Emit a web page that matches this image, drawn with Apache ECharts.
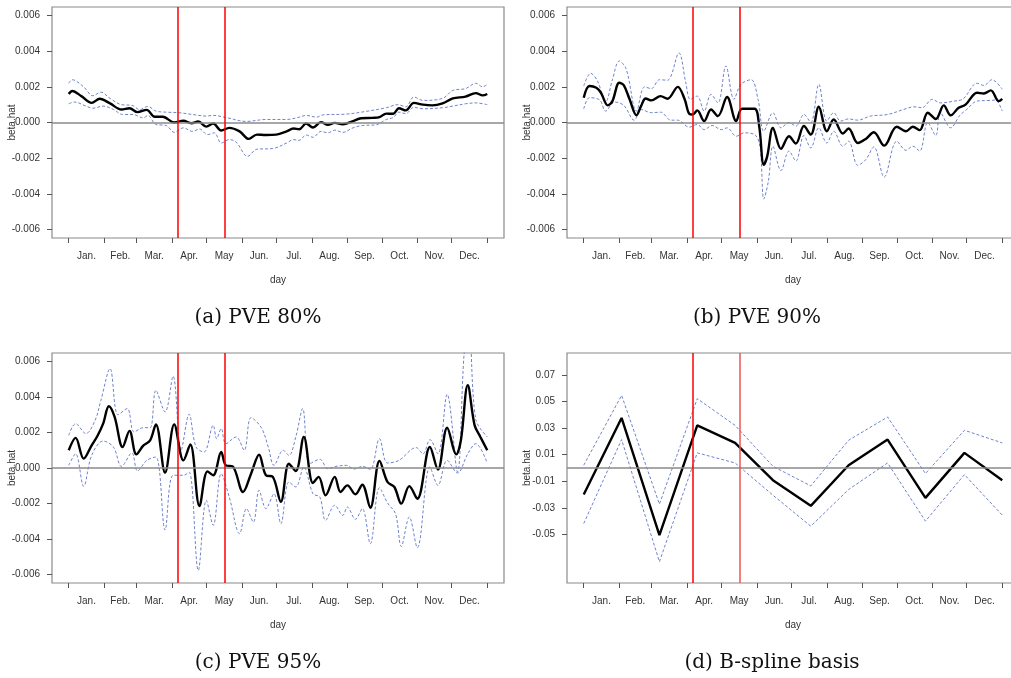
<!doctype html>
<html>
<head>
<meta charset="UTF-8">
<title>beta.hat by day</title>
<script src="https://cdn.jsdelivr.net/npm/echarts@6/dist/echarts.min.js"></script>
<style>
  html, body { margin: 0; padding: 0; background: #fff; }
  #chart { width: 1011px; height: 678px; }
</style>
</head>
<body>
<div id="chart"></div>
<script>
// month axis
var monthNames = ['Jan.', 'Feb.', 'Mar.', 'Apr.', 'May', 'Jun.', 'Jul.', 'Aug.', 'Sep.', 'Oct.', 'Nov.', 'Dec.'];
var monthStarts = [0, 31, 59, 90, 120, 151, 181, 212, 243, 273, 304, 334, 365];
var breakDays = [95, 136];
var captions = ['(a) PVE 80%', '(b) PVE 90%', '(c) PVE 95%', '(d) B-spline basis'];
var betaTicks = [-0.006, -0.004, -0.002, 0, 0.002, 0.004, 0.006];
var basisTicks = [-0.05, -0.03, -0.01, 0.01, 0.03, 0.05, 0.07];

// (a) PVE 80%  [day, beta.hat]
var aFit = [[0,.0016],[3,.00177],[11,.00148],[20,.0011],[27,.00133],[36,.00107],[46,.00073],[53,.0008],[60,.00058],[68,.00071],[75,.00032],[82,.00032],[92,0],[100,.0001],[107,-.00004],[113,.00006],[120,-.00023],[126,-.00006],[133,-.00045],[140,-.0003],[149,-.0005],[157,-.00092],[164,-.00068],[172,-.0007],[181,-.00068],[190,-.0005],[196,-.00034],[201,-.00038],[207,-.00006],[213,-.00028],[220,.00002],[226,-.00013],[232,-.00002],[239,-.0001],[248,.00008],[255,.00024],[265,.00026],[271,.0003],[277,.0005],[283,.00049],[288,.0008],[294,.00068],[301,.0011],[309,.001],[317,.00096],[326,.00107],[335,.00135],[346,.00145],[355,.00165],[361,.00152],[365,.0016]];
var aUp = [[0,.0022],[3,.0024],[13,.002],[21,.0015],[28,.0017],[36,.00135],[46,.001],[55,.00096],[62,.00073],[69,.0009],[76,.00064],[85,.00058],[96,.00055],[108,.00045],[120,.00036],[126,.0004],[137,.00028],[155,.00006],[172,.00017],[190,.00017],[201,.0003],[207,.0004],[216,.0003],[222,.00043],[242,.00047],[259,.00062],[277,.00083],[287,.001],[294,.00088],[301,.00143],[309,.00124],[326,.00135],[335,.0018],[346,.0019],[355,.0022],[361,.002],[365,.00214]];
var aLo = [[0,.00105],[5,.00115],[15,.00092],[21,.0008],[30,.00092],[39,.00073],[47,.00045],[56,.00045],[65,.00026],[69,.0004],[76,-.00011],[85,-.00017],[92,-.00055],[100,-.0003],[108,-.0005],[114,-.00036],[121,-.00068],[127,-.00058],[133,-.00115],[140,-.00096],[146,-.0011],[156,-.0019],[164,-.0015],[178,-.00146],[190,-.00115],[196,-.00096],[201,-.001],[207,-.0007],[213,-.00083],[220,-.0005],[226,-.00058],[232,-.00043],[239,-.00055],[248,-.0003],[256,-.00017],[268,-.00013],[277,.00017],[283,.00028],[288,.00058],[294,.0005],[301,.00085],[309,.00077],[326,.00083],[335,.00092],[346,.00105],[355,.0011],[365,.001]];

// (b) PVE 90%
var bFit = [[0,.00139],[5,.00205],[11,.00195],[15,.00167],[21,.00096],[25,.0012],[31,.00223],[35,.00208],[40,.0013],[46,.0004],[50,.00092],[54,.00135],[59,.00124],[67,.00148],[73,.00133],[82,.002],[88,.0013],[92,.00049],[95,.00045],[99,.00068],[105,.00008],[111,.00073],[117,.00036],[125,.00143],[133,.00008],[138,.00077],[149,.00077],[153,-.0002],[157,-.00237],[160,-.0019],[165,-.0003],[172,-.00148],[179,-.00077],[185,-.00118],[192,-.0002],[198,-.00068],[205,.00088],[212,-.00049],[218,.00017],[226,-.00062],[231,-.00034],[239,-.00115],[246,-.00092],[253,-.00055],[262,-.0013],[273,-.00024],[281,-.00049],[287,-.00024],[293,-.00043],[300,.00055],[307,.0002],[314,.00096],[320,.0004],[327,.00083],[333,.001],[343,.00167],[349,.00163],[355,.0018],[362,.0012],[365,.00133]];
var bUp = [[0,.00205],[6,.00276],[12,.00233],[19,.00115],[25,.0024],[31,.00345],[37,.003],[46,.00064],[53,.002],[59,.0019],[66,.0024],[73,.00237],[83,.0039],[89,.00223],[93,.0013],[99,.00148],[105,.00064],[111,.00158],[117,.0011],[124,.00317],[131,.0013],[137,.00214],[146,.0024],[152,.0013],[157,-.00049],[165,.00055],[172,-.0003],[179,0],[185,-.0002],[192,.00045],[198,0],[205,.00214],[212,.00008],[218,.00055],[224,.00008],[231,.0002],[239,.00013],[250,.00036],[265,.00045],[279,.00073],[288,.00088],[295,.00083],[304,.0013],[311,.0011],[323,.0012],[331,.00133],[343,.0022],[349,.00208],[356,.0024],[365,.00186]];
var bLo = [[0,.00077],[5,.00139],[14,.00126],[19,.00064],[27,.00115],[35,.00096],[44,.00013],[50,.00073],[59,.00055],[67,.00058],[76,.00013],[82,.00013],[92,-.00026],[99,-.00011],[105,-.0004],[112,-.00017],[120,-.0004],[125,-.0003],[133,-.00077],[140,-.00058],[150,-.00073],[154,-.0015],[157,-.0043],[161,-.0033],[165,-.00133],[172,-.0027],[179,-.0016],[185,-.00216],[192,-.00073],[198,-.00143],[205,-.0003],[212,-.00115],[218,-.00049],[226,-.00133],[231,-.00105],[239,-.0024],[246,-.00208],[253,-.00137],[262,-.00306],[273,-.00105],[281,-.00156],[287,-.00133],[293,-.0016],[300,0],[307,-.00073],[311,.00055],[320,-.0003],[328,.0004],[334,.00073],[343,.0012],[355,.00124],[359,.00126],[365,.00064]];

// (c) PVE 95%
var cFit = [[0,.001],[6,.0017],[13,.00053],[20,.00128],[25,.0018],[30,.0025],[35,.00348],[40,.00288],[47,.00118],[53,.00209],[59,.00077],[65,.00126],[71,.00156],[76,.00246],[84,-.00026],[92,.00246],[100,.00043],[106,.00133],[114,-.00214],[121,-.00019],[126,-.00041],[133,.0009],[137,.00015],[143,.00009],[152,-.00135],[159,-.00032],[166,.00075],[172,-.00041],[178,-.0005],[185,-.0019],[192,.00024],[198,-.00017],[205,.00175],[213,-.00085],[218,-.0005],[224,-.00154],[232,-.0005],[237,-.00135],[243,-.00098],[250,-.00148],[256,-.00094],[263,-.00224],[271,.0004],[278,-.00079],[284,-.00107],[290,-.00201],[297,-.00102],[304,-.00173],[315,.00118],[322,-.00009],[330,.00227],[338,.00077],[342,.00156],[348,.00466],[354,.0024],[359,.00175],[365,.001]];
var cUp = [[0,.00184],[6,.0025],[15,.00194],[23,.00269],[28,.0038],[36,.0056],[43,.003],[51,.00335],[57,.00203],[65,.00227],[71,.00227],[76,.00438],[84,.00316],[91,.00517],[98,.001],[105,.00303],[111,.00118],[118,.0009],[126,.0024],[129,.00165],[133,.00222],[137,.00137],[146,.00175],[153,.001],[159,.00284],[168,.00227],[174,.00118],[179,.00015],[187,.001],[192,.00071],[198,.00175],[204,.00335],[210,.00024],[219,.00049],[226,-.00004],[233,.00009],[242,.00015],[249,-.00006],[256,.00009],[263,-.00008],[271,.00165],[278,.00028],[288,.00043],[303,.00115],[309,.0008],[315,.0016],[322,.0008],[330,.00415],[339,-.00022],[345,.0066],[349,.0078],[355,.00273],[365,.00175]];
var cLo = [[0,.00015],[6,.0008],[13,-.00103],[20,.00071],[30,.00152],[39,.00118],[46,.00009],[55,.00085],[60,-.00017],[68,.00043],[76,.00062],[84,-.0035],[91,-.00041],[100,-.00041],[105,-.00023],[113,-.00577],[120,-.00182],[126,-.00323],[133,-.00032],[140,-.00164],[149,-.0037],[155,-.00229],[161,-.00305],[166,-.00126],[172,-.00229],[179,-.00145],[185,-.00314],[192,-.00079],[198,-.00107],[205,.00006],[213,-.00145],[219,-.00164],[224,-.00295],[232,-.0021],[239,-.00267],[243,-.0022],[250,-.00289],[256,-.00229],[263,-.00427],[271,-.00111],[278,-.00197],[285,-.00258],[290,-.00442],[297,-.00276],[304,-.00449],[315,.00006],[322,-.00098],[330,.00043],[339,-.00028],[348,.0008],[355,.00137],[365,.00028]];

// (d) B-spline basis
var dKnots = [0, 33, 66, 99, 132, 165, 198, 231, 265, 298, 332, 365];
var dFit = [-0.02, 0.0377, -0.0505, 0.0321, 0.0189, -0.0092, -0.0285, 0.0021, 0.0214, -0.0225, 0.0114, -0.0092];
var dUp = [0.0021, 0.0547, -0.0272, 0.0522, 0.0321, 0.0013, -0.0135, 0.0209, 0.0384, -0.0042, 0.0284, 0.0189];
var dLo = [-0.0418, 0.0214, -0.0706, 0.0114, 0.0038, -0.0205, -0.0438, -0.0162, 0.0038, -0.04, -0.005, -0.0355];

var chart = echarts.init(document.getElementById('chart'));

var textFont = 'Liberation Sans';
var monthMids = [];
for (var i = 0; i < 12; i++) monthMids.push((monthStarts[i] + monthStarts[i + 1]) / 2);

// 4 panels: left/top of each plotting box
var boxes = [
    { left: 52, top: 7, height: 231 },
    { left: 567, top: 7, height: 231 },
    { left: 52, top: 353, height: 230 },
    { left: 567, top: 353, height: 230 }
];

function pairs(xs, ys) {
    return xs.map(function (x, k) { return [x, ys[k]]; });
}

var grids = [], xAxes = [], yAxes = [], series = [];

boxes.forEach(function (b, i) {
    grids.push({
        left: b.left, top: b.top, width: 452, height: b.height,
        outerBoundsMode: 'none', containLabel: false,
        show: true, borderColor: '#8a8a8a', borderWidth: 1.2, backgroundColor: 'transparent'
    });
    xAxes.push({
        gridIndex: i, type: 'value', min: -14.6, max: 379.6, position: 'bottom',
        name: 'day', nameLocation: 'middle', nameGap: 37, nameMoveOverlap: false,
        nameTextStyle: { fontFamily: textFont, fontSize: 10, color: '#333' },
        axisLine: { show: false, onZero: false },
        axisTick: { show: true, length: 5, customValues: monthStarts, lineStyle: { color: '#555' } },
        axisLabel: {
            customValues: monthMids, margin: 13, fontFamily: textFont, fontSize: 10, color: '#333',
            formatter: function (v) {
                var k = monthMids.indexOf(v);
                return k >= 0 ? monthNames[k] : '';
            }
        },
        splitLine: { show: false }
    });
    var isBasis = i === 3;
    var ticks = isBasis ? basisTicks : betaTicks;
    yAxes.push({
        gridIndex: i, type: 'value', position: 'left',
        min: isBasis ? -0.0866 : -0.00648, max: isBasis ? 0.0866 : 0.00648,
        name: 'beta.hat', nameLocation: 'middle', nameGap: 35, nameRotate: 90, nameMoveOverlap: false,
        nameTextStyle: { fontFamily: textFont, fontSize: 10, color: '#333' },
        axisLine: { show: false, onZero: false },
        axisTick: { show: true, length: 5, customValues: ticks, lineStyle: { color: '#555' } },
        axisLabel: {
            customValues: ticks, margin: 12, fontFamily: textFont, fontSize: 10, color: '#333',
            formatter: function (v) { return v.toFixed(isBasis ? 2 : 3); }
        },
        splitLine: { show: false }
    });
});

var panelData = [
    [aFit, aUp, aLo],
    [bFit, bUp, bLo],
    [cFit, cUp, cLo],
    [pairs(dKnots, dFit), pairs(dKnots, dUp), pairs(dKnots, dLo)]
];

panelData.forEach(function (set, i) {
    var smooth = i < 3 ? 0.35 : false;
    [1, 2].forEach(function (k) {
        series.push({
            type: 'line', xAxisIndex: i, yAxisIndex: i, data: set[k], smooth: smooth,
            symbol: 'none', silent: true, clip: true,
            lineStyle: { color: '#6f82cc', width: 1, type: [3, 2] }
        });
    });
    series.push({
        type: 'line', xAxisIndex: i, yAxisIndex: i, data: set[0], smooth: smooth,
        symbol: 'none', silent: true, clip: true, z: 3,
        lineStyle: { color: '#000', width: 2.4 },
        markLine: {
            silent: true, symbol: 'none', animation: false,
            label: { show: false },
            data: [
                { yAxis: 0, lineStyle: { color: '#8a8a8a', width: 1.5, type: 'solid' } },
                { xAxis: breakDays[0], lineStyle: { color: '#ff0000', width: 1.5, type: 'solid' } },
                { xAxis: breakDays[1], lineStyle: { color: i === 3 ? '#ee5555' : '#ff0000', width: 1.5, type: 'solid' } }
            ]
        }
    });
});

var capPos = [[258, 318], [757, 318], [258, 663], [772, 663]];
var graphics = captions.map(function (t, i) {
    return {
        type: 'text', x: capPos[i][0], y: capPos[i][1],
        style: { text: t, fontFamily: 'DejaVu Serif', fontSize: 20, fill: '#111', align: 'center', verticalAlign: 'middle' }
    };
});

chart.setOption({
    animation: false,
    grid: grids,
    xAxis: xAxes,
    yAxis: yAxes,
    series: series,
    graphic: graphics
});
</script>
</body>
</html>
